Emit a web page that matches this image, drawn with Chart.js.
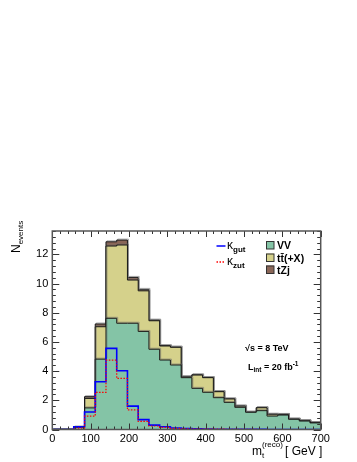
<!DOCTYPE html>
<html>
<head>
<meta charset="utf-8">
<script src="https://cdn.jsdelivr.net/npm/chart.js@4.4.1/dist/chart.umd.min.js"></script>
<style>
  html, body { margin: 0; padding: 0; background: #fff; }
  canvas { display: block; }
</style>
</head>
<body>
<canvas id="chartMass" width="357" height="462"></canvas>
<script>
// bin edges of m_t(reco), GeV (25 bins of 28 GeV)
const binEdges = [0, 28, 56, 84, 112, 140, 168, 196, 224, 252, 280, 308, 336, 364,
                  392, 420, 448, 476, 504, 532, 560, 588, 616, 644, 672, 700];

// backgrounds (events per bin)
const vv   = [0, 0, 0.15, 1.48, 4.82, 7.62, 7.28, 7.28, 6.72, 5.5, 4.76, 4.42, 3.55,
              2.82, 2.55, 2.18, 1.86, 1.52, 1.18, 1.29, 0.92, 0.99, 0.7, 0.58, 0.45];
const ttx  = [0, 0, 0, 0.65, 2.22, 4.95, 5.36, 2.96, 2.78, 1.95, 0.96, 1.21, 0.05,
              0.91, 1.0, 0.41, 0.23, 0.08, 0, 0.2, 0.12, 0.04, 0.01, 0.02, 0.02];
const tzj  = [0, 0, 0, 0.12, 0.19, 0.29, 0.34, 0.18, 0.1, 0.05, 0.03, 0.02, 0.02,
              0.02, 0.01, 0.01, 0.01, 0.01, 0, 0, 0, 0, 0, 0, 0];

// signals
const kGut = [0, 0, 0.18, 1.2, 3.27, 5.56, 4.03, 1.6, 0.68, 0.3, 0.19, 0.1, 0.06,
              0.04, 0.03, 0.02, 0.02, 0.01, 0.01, 0.01, 0, 0, 0, 0, 0];
const kZut = [0, 0, 0.1, 0.92, 2.55, 4.76, 3.5, 1.34, 0.55, 0.24, 0.15, 0.08, 0.05,
              0.03, 0.02, 0.02, 0.01, 0.01, 0.01, 0, 0, 0, 0, 0, 0];

const xTicks = [0, 100, 200, 300, 400, 500, 600, 700];
const yTicks = [0, 2, 4, 6, 8, 10, 12];

const colVV = "#84c4a6";
const colTT = "#d5d18b";
const colTZ = "#8a6657";
const FONT = "'Liberation Sans', Arial, Helvetica, sans-serif";

// histogram as step points on the bin edges
function steps(values) {
    return binEdges.map((e, i) => ({ x: e, y: values[Math.min(i, values.length - 1)] }));
}
function addUp(...lists) {
    return lists[0].map((_, i) => lists.reduce((s, l) => s + l[i], 0));
}

const stackVV = vv;
const stackTT = addUp(vv, ttx);
const stackAll = addUp(vv, ttx, tzj);

function drawRich(ctx, x, y, segs) {
    // segs: [text, size, dy, bold]
    for (const [t, size, dy, bold] of segs) {
        ctx.font = (bold ? "bold " : "") + size + "px " + FONT;
        ctx.fillText(t, x, y + dy);
        x += ctx.measureText(t).width;
    }
    return x;
}

const rootStyle = {
    id: "rootStyle",
    beforeDatasetDraw(chart, args) {
        if (args.index <= 2) {
            const ctx = chart.ctx;
            ctx.save();
            ctx.shadowColor = "rgba(110,110,110,0.55)";
            ctx.shadowOffsetX = 1;
            ctx.shadowOffsetY = -1;
            ctx.shadowBlur = 0;
        }
    },
    afterDatasetDraw(chart, args) {
        if (args.index <= 2) chart.ctx.restore();
    },
    afterDraw(chart) {
        const ctx = chart.ctx;
        const a = chart.chartArea;
        const xs = chart.scales.x, ys = chart.scales.y;
        ctx.save();

        // ticks inside the frame
        ctx.strokeStyle = "#333";
        ctx.lineWidth = 1;
        ctx.beginPath();
        for (let v = 0; v <= 700; v += 20) {
            const px = Math.round(xs.getPixelForValue(v)) + 0.5;
            const len = v % 100 === 0 ? 6 : 3;
            ctx.moveTo(px, a.bottom); ctx.lineTo(px, a.bottom - len);
            ctx.moveTo(px, a.top); ctx.lineTo(px, a.top + len);
        }
        for (let k = 0; k <= 34; k++) {
            const v = k * 0.4;
            const py = Math.round(ys.getPixelForValue(v)) + 0.5;
            const len = k % 5 === 0 ? 7 : 3.5;
            ctx.moveTo(a.left, py); ctx.lineTo(a.left + len, py);
            ctx.moveTo(a.right, py); ctx.lineTo(a.right - len, py);
        }
        ctx.stroke();

        // frame
        ctx.strokeStyle = "#555";
        ctx.lineWidth = 1.5;
        ctx.strokeRect(a.left, a.top, a.right - a.left, a.bottom - a.top);

        // axis titles
        ctx.fillStyle = "#000";
        ctx.textBaseline = "alphabetic";
        ctx.textAlign = "left";
        drawRich(ctx, 252, 455, [["m", 12, 0, false]]);
        ctx.font = "8px " + FONT;
        ctx.fillText("t", 262, 458);
        ctx.fillText("(reco)", 262, 447);
        drawRich(ctx, 285, 455, [["[ GeV ]", 12, 0, false]]);

        ctx.save();
        ctx.translate(20, 253);
        ctx.rotate(-Math.PI / 2);
        drawRich(ctx, 0, 0, [["N", 12, 0, false], ["events", 8, 3, false]]);
        ctx.restore();

        // legend: signals
        ctx.lineWidth = 1.5;
        ctx.strokeStyle = "#0000ff";
        ctx.beginPath(); ctx.moveTo(216.5, 246); ctx.lineTo(225.5, 246); ctx.stroke();
        ctx.strokeStyle = "#ff0000";
        ctx.setLineDash([1.5, 1.5]);
        ctx.beginPath(); ctx.moveTo(216.5, 262); ctx.lineTo(225.5, 262); ctx.stroke();
        ctx.setLineDash([]);
        drawRich(ctx, 227, 249, [["κ", 12, 0, false], ["gut", 8, 3, true]]);
        drawRich(ctx, 227, 265, [["κ", 12, 0, false], ["zut", 8, 3, true]]);

        // legend: backgrounds
        const boxes = [[colVV, 241, "VV"], [colTT, 253.5, "tt\u0304(+X)"], [colTZ, 265.5, "tZj"]];
        ctx.lineWidth = 1;
        ctx.strokeStyle = "#333";
        for (const [c, y, label] of boxes) {
            ctx.fillStyle = c;
            ctx.fillRect(266, y, 8, 8);
            ctx.strokeRect(266.5, y + 0.5, 7.5, 7.5);
            ctx.fillStyle = "#000";
            drawRich(ctx, 277, y + 8, [[label, 10.5, 0, true]]);
        }

        // energy and luminosity
        drawRich(ctx, 245, 351, [["\u221As = 8 TeV", 9, 0, true]]);
        let x = drawRich(ctx, 248, 370, [["L", 9, 0, true], ["int", 6.5, 2, true], [" = 20 fb", 9, 0, true]]);
        drawRich(ctx, x, 370, [["-1", 6.5, -4, true]]);

        ctx.restore();
    }
};

const line = (label, data, color, fill, order, extra) => Object.assign({
    label: label,
    data: steps(data),
    stepped: "before",
    borderColor: "#1a1a1a",
    borderWidth: 1,
    backgroundColor: color,
    fill: fill,
    pointRadius: 0,
    order: order,
}, extra || {});

new Chart(document.getElementById("chartMass"), {
    type: "line",
    data: {
        datasets: [
            line("tZj", stackAll, colTZ, "origin", 5),
            line("tt(+X)", stackTT, colTT, "origin", 4),
            line("VV", stackVV, colVV, "origin", 3),
            line("kappa_gut", kGut, "transparent", false, 2, { borderColor: "#0000ff", borderWidth: 1.6 }),
            line("kappa_zut", kZut, "transparent", false, 1, { borderColor: "#ff0000", borderWidth: 1.2, borderDash: [1.5, 1.5] }),
        ]
    },
    options: {
        responsive: false,
        animation: false,
        layout: { padding: { top: 231, right: 36.3, left: 0, bottom: 0 } },
        plugins: { legend: { display: false }, tooltip: { enabled: false } },
        scales: {
            x: {
                type: "linear",
                min: 0, max: 700,
                grid: { display: false, drawTicks: false },
                border: { display: false },
                afterBuildTicks: (s) => { s.ticks = xTicks.map(v => ({ value: v })); },
                ticks: { color: "#000", padding: 3, maxRotation: 0, font: { family: FONT, size: 11 } },
                afterFit: (s) => { s.height = 32.5; }
            },
            y: {
                min: 0, max: 13.6,
                grid: { display: false, drawTicks: false },
                border: { display: false },
                afterBuildTicks: (s) => { s.ticks = yTicks.map(v => ({ value: v })); },
                ticks: { color: "#000", padding: 4, font: { family: FONT, size: 11 } },
                afterFit: (s) => { s.width = 52.3; }
            }
        }
    },
    plugins: [rootStyle]
});
</script>
</body>
</html>
